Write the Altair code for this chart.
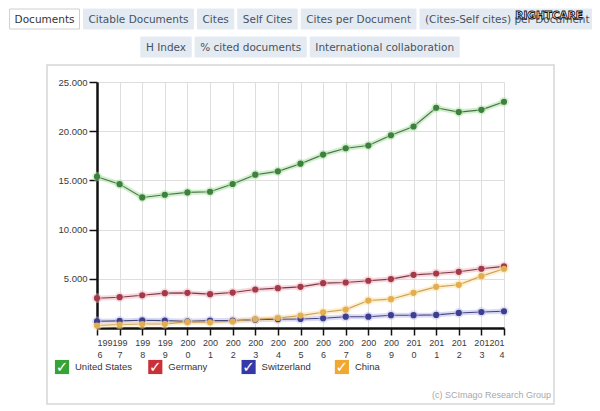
import altair as alt
import pandas as pd

# ---------------- data ----------------
years = list(range(1996, 2015))
countries = ["United States", "Germany", "Switzerland", "China"]
us = [15380, 14620, 13270, 13540, 13780, 13850, 14630, 15580, 15920, 16700,
      17620, 18270, 18540, 19590, 20480, 22380, 21940, 22170, 22990]
germany = [3030, 3130, 3330, 3540, 3570, 3440, 3600, 3910, 4050, 4180,
           4560, 4620, 4800, 4970, 5400, 5540, 5710, 6020, 6260]
switzerland = [680, 720, 780, 750, 680, 750, 750, 850, 890, 920,
               990, 1150, 1150, 1300, 1300, 1330, 1530, 1630, 1700]
china = [250, 350, 400, 420, 620, 580, 680, 890, 1020, 1260,
         1600, 1870, 2790, 2930, 3570, 4180, 4390, 5270, 6020]
y_ticks = [5000, 10000, 15000, 20000, 25000]
tabs_row1 = ["Documents", "Citable Documents", "Cites", "Self Cites",
             "Cites per Document", "(Cites-Self cites) per Document"]
tabs_row2 = ["H Index", "% cited documents", "International collaboration"]
selected_tab = "Documents"
credit = "(c) SCImago Research Group"
watermark = "RIGHTCARE"

# ---------------- styles ----------------
glow_colors = ["#a8e4a0", "#f2b8c2", "#bcbcf0", "#fde2a6"]
line_colors = ["#4d6e4d", "#7a3a44", "#45457a", "#caa060"]
point_colors = ["#3f7f3f", "#a23a4a", "#3e3e8e", "#e2ae52"]
legend_colors = ["#35a335", "#c93038", "#3538a8", "#f0a830"]

W, H = 407, 246
series = [us, germany, switzerland, china]
rows = []
for i, (c, vals) in enumerate(zip(countries, series)):
    for y, v in zip(years, vals):
        rows.append({"year": y, "value": v, "country": c, "order": i,
                     "glow": glow_colors[i], "line": line_colors[i],
                     "pt": point_colors[i]})
df = pd.DataFrame(rows)

x_enc = alt.X("year:Q", scale=alt.Scale(domain=[1996, 2014], nice=False, zero=False),
              axis=alt.Axis(values=years, format="d", title=None,
                            labelExpr="[substring(datum.label,0,3), substring(datum.label,3)]",
                            labelOverlap=False, labelBound=False,
                            grid=True, gridColor="#dedede", gridWidth=1,
                            domainColor="#111", domainWidth=2.5,
                            tickColor="#111", tickSize=7, tickWidth=1.5,
                            labelFont="Liberation Sans", labelFontSize=9,
                            labelColor="#3a3a3a", labelLineHeight=12, labelPadding=3,
                            labelAngle=0))
y_enc = alt.Y("value:Q", scale=alt.Scale(domain=[0, 25000], nice=False),
              axis=alt.Axis(values=y_ticks, title=None,
                            labelExpr="replace(format(datum.value, ',d'), ',', '.')",
                            labelOverlap=False,
                            grid=True, gridColor="#dedede", gridWidth=1,
                            domainColor="#111", domainWidth=2.5,
                            tickColor="#111", tickSize=8, tickWidth=1.5,
                            labelFont="Liberation Sans", labelFontSize=9.5,
                            labelColor="#3a3a3a", labelPadding=2))

glow = alt.Chart(df).mark_line(strokeWidth=5, opacity=0.55).encode(
    x=x_enc, y=y_enc, detail="country:N",
    stroke=alt.Stroke("glow:N", scale=None))
line = alt.Chart(df).mark_line(strokeWidth=1.1).encode(
    x=x_enc, y=y_enc, detail="country:N",
    stroke=alt.Stroke("line:N", scale=None))
halo = alt.Chart(df).mark_circle(size=95, opacity=0.45).encode(
    x=x_enc, y=y_enc, color=alt.Color("glow:N", scale=None))
pts = alt.Chart(df).mark_circle(size=38, opacity=1).encode(
    x=x_enc, y=y_enc, color=alt.Color("pt:N", scale=None))

# ---------------- decorations (pixel coordinates relative to plot origin) ----------------
EM = {" ": 0.318, "(": 0.390, ")": 0.390, "-": 0.361, "%": 0.950, "A": 0.684,
      "C": 0.698, "D": 0.770, "H": 0.752, "I": 0.295, "S": 0.635, "a": 0.613,
      "b": 0.635, "c": 0.550, "d": 0.635, "e": 0.615, "i": 0.278, "l": 0.278,
      "m": 0.974, "n": 0.634, "o": 0.612, "p": 0.635, "r": 0.411, "s": 0.521,
      "t": 0.392, "u": 0.634, "x": 0.592, "f": 0.352, "g": 0.635}
TAB_FS = 10.5


def tw(s):
    return sum(EM.get(ch, 0.6) for ch in s) * TAB_FS


tab_rows = []
for labels, top, center in [(tabs_row1, -73, None), (tabs_row2, -45, 203)]:
    widths = [tw(s) + 10 for s in labels]
    total = sum(widths) + 4 * (len(labels) - 1)
    xs = -87.4 if center is None else center - total / 2
    for s, w in zip(labels, widths):
        sel = s == selected_tab
        tab_rows.append({"label": s, "x": xs, "x2": xs + w, "y": top, "y2": top + 20,
                         "xc": xs + w / 2, "yc": top + 10.5,
                         "fill": "#ffffff" if sel else "#e4eaf2",
                         "stroke": "#cfcfcf" if sel else "#e4eaf2",
                         "tc": "#333333" if sel else "#46535f"})
        xs += w + 4
tabs_df = pd.DataFrame(tab_rows)

tab_rects = alt.Chart(tabs_df).mark_rect(strokeWidth=1).encode(
    x=alt.X("x:Q", scale=None, axis=None), x2="x2:Q",
    y=alt.Y("y:Q", scale=None, axis=None), y2="y2:Q",
    fill=alt.Fill("fill:N", scale=None), stroke=alt.Stroke("stroke:N", scale=None))
tab_text = alt.Chart(tabs_df).mark_text(font="DejaVu Sans", fontSize=TAB_FS,
                                        align="center", baseline="middle").encode(
    x=alt.X("xc:Q", scale=None, axis=None), y=alt.Y("yc:Q", scale=None, axis=None),
    text="label:N", color=alt.Color("tc:N", scale=None))

one = pd.DataFrame({"k": [0]})
box = alt.Chart(one).mark_rect(fillOpacity=0, stroke="#d6d6d6", strokeWidth=1.5).encode(
    x=alt.value(-50), x2=alt.value(457), y=alt.value(-17), y2=alt.value(322))

leg_df = pd.DataFrame({"country": countries, "i": list(range(len(countries))),
                       "col": legend_colors})
leg_df["sx"] = -35 + leg_df["i"] * 93.3
leg_df["lx"] = -22 + leg_df["i"] * 93.3
leg_df["ly"] = 285
leg_sq = alt.Chart(leg_df).mark_square(size=200, opacity=1, filled=True).encode(
    x=alt.X("sx:Q", scale=None, axis=None), y=alt.Y("ly:Q", scale=None, axis=None),
    color=alt.Color("col:N", scale=None))
leg_chk = alt.Chart(leg_df).mark_text(text="✓", font="DejaVu Sans", fontSize=15,
                                      fontWeight="bold", color="white",
                                      align="center", baseline="middle").encode(
    x=alt.X("sx:Q", scale=None, axis=None), y=alt.Y("ly:Q", scale=None, axis=None))
leg_lbl = alt.Chart(leg_df).mark_text(font="Liberation Sans", fontSize=9.5, color="#333",
                                      align="left", baseline="middle").encode(
    x=alt.X("lx:Q", scale=None, axis=None), y=alt.Y("ly:Q", scale=None, axis=None),
    text="country:N")

cred = alt.Chart(pd.DataFrame({"t": [credit]})).mark_text(
    font="Liberation Sans", fontSize=9, color="#a8a8a8", align="right",
    baseline="middle").encode(x=alt.value(454), y=alt.value(313), text="t:N")
wm = alt.Chart(pd.DataFrame({"t": [watermark]})).mark_text(
    font="DejaVu Sans", fontSize=10.5, fontWeight="bold", color="white",
    stroke="#111", strokeWidth=0.9, align="right", baseline="middle").encode(
    x=alt.value(486), y=alt.value(-66), text="t:N")

chart = alt.layer(box, tab_rects, tab_text, glow, line, halo, pts,
                  leg_sq, leg_chk, leg_lbl, cred, wm).properties(
    width=W, height=H,
    autosize=alt.AutoSizeParams(type="none"),
    padding={"left": 89, "top": 74, "right": 88, "bottom": 80},
    background="white",
).configure_view(stroke=None)

chart.save("out.html", embed_options={"renderer": "svg", "actions": False})
